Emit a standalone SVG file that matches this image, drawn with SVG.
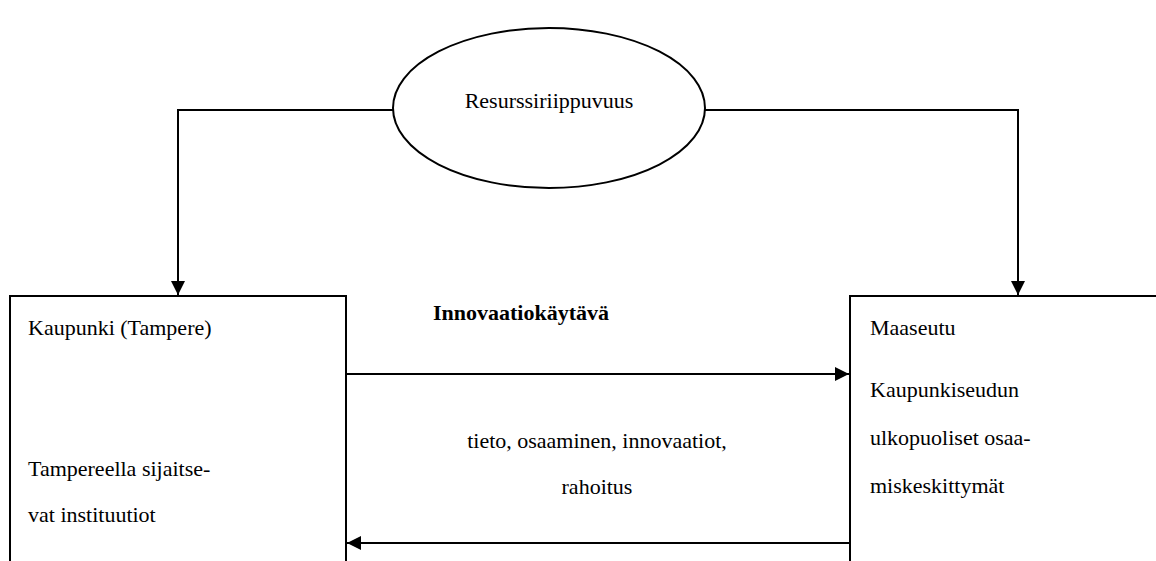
<svg xmlns="http://www.w3.org/2000/svg" width="1156" height="561" viewBox="0 0 1156 561">
<style>
.t{font-family:"Liberation Serif","Times New Roman",serif;font-size:22px;fill:#000}
.b{font-weight:bold}
.ln{stroke:#000;stroke-width:2;fill:none}
.sh{stroke:#000;stroke-width:2;fill:#fff}
</style>
<defs>
<marker id="ah" viewBox="0 0 10 10" refX="10" refY="5" markerWidth="14" markerHeight="14" markerUnits="userSpaceOnUse" orient="auto">
<path d="M0,0 L10,5 L0,10 z" fill="#000"/>
</marker>
</defs>
<rect width="1156" height="561" fill="#fff"/>
<g id="connectors">
<path class="ln" d="M394,110 H178 V295" marker-end="url(#ah)"/>
<path class="ln" d="M704,110 H1018 V295" marker-end="url(#ah)"/>
<path class="ln" d="M346,374 H849" marker-end="url(#ah)"/>
<path class="ln" d="M850,543 H347" marker-end="url(#ah)"/>
</g>
<g id="resurssi">
<ellipse class="sh" cx="549" cy="108" rx="156" ry="80"/>
<text class="t" x="549" y="108" text-anchor="middle">Resurssiriippuvuus</text>
</g>
<g id="kaupunki">
<rect class="sh" x="10" y="296" width="336" height="280"/>
<text class="t" x="28" y="335">Kaupunki (Tampere)</text>
<text class="t" x="28" y="476">Tampereella sijaitse-</text>
<text class="t" x="28" y="522">vat instituutiot</text>
</g>
<g id="maaseutu">
<rect class="sh" x="850" y="296" width="320" height="280"/>
<text class="t" x="870" y="335">Maaseutu</text>
<text class="t" x="870" y="397">Kaupunkiseudun</text>
<text class="t" x="870" y="445">ulkopuoliset osaa-</text>
<text class="t" x="870" y="493">miskeskittymät</text>
</g>
<g id="labels">
<text class="t b" x="521" y="320" text-anchor="middle">Innovaatiokäytävä</text>
<text class="t" x="597" y="448" text-anchor="middle">tieto, osaaminen, innovaatiot,</text>
<text class="t" x="597" y="494" text-anchor="middle">rahoitus</text>
</g>
</svg>
